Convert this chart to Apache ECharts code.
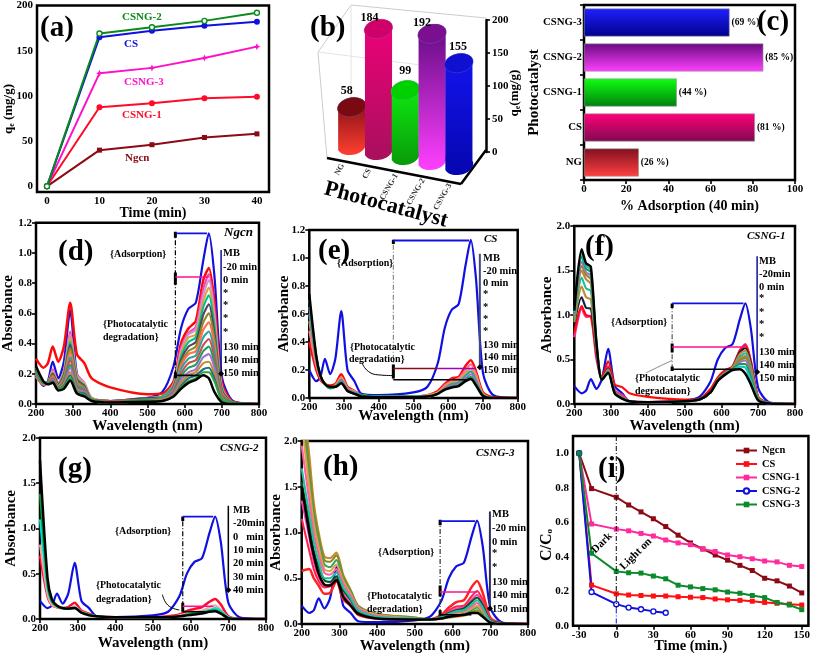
<!DOCTYPE html>
<html><head><meta charset="utf-8">
<style>html,body{margin:0;padding:0;background:#fff}#c{width:813px;height:657px}</style>
<script src="https://cdn.jsdelivr.net/npm/echarts@6/dist/echarts.min.js"></script>
</head><body><div id="c"></div>
<script>
const FONT='"Liberation Serif","Times New Roman",serif';
// ---- panel (a)
const timeA=[0,10,20,30,40];
const qCSNG2=[0,169,176,183,192];
const qCS=[0,165,172,177.5,182];
const qCSNG3=[0,125,131,142,154.5];
const qCSNG1=[0,87.5,92,97.5,99];
const qNgcn=[0,40,46,54,58];
// ---- panels (b),(c)
const catalysts=['NG','CS','CSNG-1','CSNG-2','CSNG-3'];
const qAt40=[58,184,99,192,155];
const adsorption=[26,81,44,85,69];
// ---- panel (i)
const timeI=[-30,-20,0,10,20,30,40,50,60,70,80,90,100,110,120,130,140,150];
const cNgcn=[1,.795,.745,.70,.66,.62,.575,.525,.48,.445,.41,.38,.35,.32,.275,.26,.23,.19];
const cCS=[1,.235,.185,.178,.175,.172,.172,.168,.165,.163,.155,.15,.147,.142,.135,.13,.125,.12];
const cCSNG1=[1,.59,.56,.55,.535,.52,.497,.48,.47,.445,.43,.41,.40,.388,.375,.37,.35,.343];
const cCSNG2=[1,.195,.125,.105,.095,.083,.075];
const cCSNG3=[1,.42,.315,.307,.305,.288,.272,.235,.225,.215,.208,.195,.188,.175,.163,.135,.12,.093];
// ---- spectra
const wl=[200,220,232,245,260,275,292,310,330,350,400,500,540,570,590,610,630,650,665,680,700,730,800];
const MB=[.20,.12,.15,.28,.17,.28,.62,.20,.12,.03,.02,.04,.08,.25,.50,.63,.67,.95,1.13,.85,.18,.02,0];
const specD=[
[.30,.24,.27,.38,.28,.38,.67,.33,.27,.17,.11,.065,.07,.15,.40,.50,.55,.82,.90,.68,.14,.015,0],
[.18,.13,.14,.23,.14,.22,.48,.20,.14,.04,.02,.04,.05,.13,.37,.47,.51,.76,.86,.62,.12,.01,0],
[.18,.13,.14,.22,.14,.21,.46,.19,.14,.04,.02,.04,.05,.13,.35,.46,.49,.72,.82,.59,.11,.01,0],
[.19,.13,.14,.21,.14,.21,.44,.18,.13,.04,.02,.04,.05,.12,.33,.44,.46,.68,.77,.55,.10,.01,0],
[.19,.13,.14,.20,.13,.20,.41,.17,.12,.03,.02,.04,.05,.12,.31,.41,.44,.64,.72,.52,.10,.01,0],
[.19,.13,.14,.20,.13,.19,.39,.16,.12,.03,.02,.04,.04,.11,.29,.38,.41,.59,.66,.47,.09,.01,0],
[.20,.13,.14,.19,.12,.18,.37,.15,.11,.03,.02,.03,.04,.10,.27,.35,.38,.54,.60,.43,.08,.01,0],
[.20,.13,.14,.18,.12,.17,.34,.14,.10,.03,.02,.03,.04,.10,.25,.33,.35,.49,.54,.39,.07,.01,0],
[.20,.14,.14,.17,.11,.16,.31,.13,.10,.03,.02,.03,.04,.09,.23,.30,.32,.44,.48,.35,.06,.01,0],
[.21,.14,.14,.17,.11,.15,.29,.12,.09,.03,.02,.03,.03,.08,.20,.27,.29,.39,.43,.31,.06,.01,0],
[.21,.14,.14,.16,.11,.14,.26,.11,.08,.03,.01,.03,.03,.07,.18,.24,.26,.35,.38,.27,.05,.01,0],
[.22,.14,.14,.16,.10,.13,.24,.10,.08,.02,.01,.02,.03,.07,.16,.21,.23,.31,.33,.24,.04,0,0],
[.22,.14,.14,.15,.10,.13,.21,.09,.07,.02,.01,.02,.03,.06,.14,.19,.21,.27,.28,.20,.04,0,0],
[.23,.14,.14,.15,.10,.12,.19,.08,.07,.02,.01,.02,.02,.05,.12,.17,.19,.23,.24,.17,.03,0,0],
[.24,.14,.14,.14,.10,.11,.17,.08,.06,.02,.01,.02,.02,.05,.11,.15,.17,.21,.21,.15,.03,0,0],
[.25,.15,.13,.14,.09,.10,.155,.07,.05,.02,.01,.015,.02,.05,.10,.14,.16,.19,.17,.08,.012,0,0]];
const specE=[
[.40,.20,.13,.10,.09,.10,.17,.08,.05,.02,.01,.01,.02,.05,.10,.14,.15,.23,.27,.19,.04,.005,0],
[.48,.23,.14,.10,.08,.09,.15,.07,.05,.02,.01,.01,.02,.04,.09,.12,.14,.20,.24,.17,.03,0,0],
[.55,.25,.15,.10,.08,.09,.14,.07,.04,.02,.01,.01,.02,.04,.08,.11,.12,.18,.21,.15,.03,0,0],
[.60,.27,.15,.10,.07,.08,.13,.06,.04,.02,.01,.01,.01,.03,.07,.10,.11,.16,.19,.13,.02,0,0],
[.65,.29,.16,.10,.07,.08,.12,.06,.03,.02,.01,.01,.01,.03,.07,.09,.10,.14,.17,.12,.02,0,0],
[.70,.30,.16,.10,.07,.08,.11,.05,.03,.02,.01,.01,.01,.03,.06,.08,.09,.13,.15,.10,.02,0,0],
[.74,.30,.16,.10,.08,.08,.105,.05,.03,.01,.005,.005,.01,.03,.06,.075,.085,.12,.135,.09,.015,0,0]];
const specF=[
[.75,1.08,.98,.99,.52,.28,.42,.15,.10,.03,.02,.04,.05,.14,.28,.36,.42,.60,.67,.48,.08,.01,0],
[.80,1.10,1.00,.98,.55,.30,.48,.22,.19,.12,.08,.05,.06,.17,.30,.38,.42,.60,.66,.48,.08,.01,0],
[.90,1.20,1.08,1.07,.60,.27,.40,.14,.08,.03,.02,.03,.05,.13,.27,.35,.41,.58,.63,.45,.07,.01,0],
[.92,1.32,1.20,1.17,.62,.27,.39,.14,.08,.03,.02,.03,.05,.13,.27,.35,.41,.56,.60,.43,.07,.01,0],
[.95,1.42,1.30,1.27,.64,.27,.38,.13,.07,.03,.02,.03,.05,.13,.27,.35,.40,.53,.57,.40,.06,.01,0],
[.97,1.50,1.40,1.35,.66,.27,.38,.13,.07,.03,.02,.03,.05,.13,.27,.34,.40,.51,.54,.38,.06,.01,0],
[.99,1.55,1.45,1.40,.67,.27,.37,.13,.07,.03,.02,.03,.05,.13,.27,.34,.39,.49,.52,.36,.06,.01,0],
[1.0,1.60,1.48,1.44,.68,.27,.37,.13,.07,.03,.02,.03,.05,.13,.26,.34,.39,.47,.49,.33,.05,.01,0],
[1.02,1.66,1.52,1.48,.69,.27,.36,.12,.06,.03,.02,.03,.05,.13,.26,.33,.39,.45,.45,.30,.05,.005,0],
[1.03,1.70,1.55,1.51,.70,.27,.36,.12,.06,.03,.02,.03,.05,.13,.26,.33,.38,.42,.41,.26,.04,.005,0],
[1.05,1.74,1.58,1.54,.70,.27,.35,.12,.06,.03,.02,.03,.05,.13,.26,.33,.38,.39,.34,.22,.04,.005,0]];
const specG=[
[.70,.25,.15,.13,.12,.13,.18,.09,.06,.03,.02,.02,.03,.05,.09,.11,.13,.19,.22,.16,.03,0,0],
[.82,.27,.15,.13,.12,.12,.14,.08,.05,.03,.02,.02,.02,.04,.06,.08,.09,.13,.15,.10,.02,0,0],
[1.10,.33,.18,.14,.12,.11,.13,.07,.05,.03,.02,.02,.02,.03,.05,.07,.08,.10,.12,.09,.02,0,0],
[1.38,.38,.19,.14,.12,.11,.12,.07,.05,.03,.02,.02,.02,.03,.05,.06,.07,.09,.10,.07,.01,0,0],
[1.75,.45,.21,.15,.12,.115,.12,.07,.04,.03,.02,.02,.02,.03,.04,.05,.06,.08,.085,.06,.01,0,0]];
const specH=[
[.58,.60,.50,.42,.33,.34,.47,.27,.20,.10,.06,.05,.05,.10,.18,.24,.26,.40,.47,.34,.07,.01,0],
[1.15,.80,.60,.47,.40,.41,.49,.30,.20,.11,.06,.05,.05,.09,.15,.19,.20,.30,.36,.26,.05,.01,0],
[1.35,.95,.68,.52,.42,.43,.50,.33,.22,.12,.07,.05,.05,.08,.13,.17,.18,.26,.32,.23,.05,.01,0],
[1.55,1.10,.80,.62,.48,.46,.52,.37,.26,.14,.08,.05,.05,.08,.12,.15,.17,.24,.29,.21,.04,.01,0],
[2.6,1.85,1.33,1.0,.74,.72,.78,.54,.37,.20,.11,.07,.05,.06,.07,.08,.09,.12,.13,.09,.02,0,0],
[2.5,1.7,1.25,.95,.70,.68,.75,.52,.36,.19,.11,.07,.05,.06,.08,.09,.10,.13,.15,.10,.02,0,0],
[2.35,1.6,1.18,.90,.65,.62,.70,.49,.35,.19,.10,.06,.05,.06,.08,.10,.11,.15,.18,.12,.02,0,0],
[2.2,1.5,1.10,.84,.60,.58,.65,.47,.33,.18,.10,.06,.05,.06,.09,.12,.13,.17,.20,.14,.03,0,0],
[1.95,1.35,1.0,.76,.56,.54,.60,.44,.31,.17,.09,.06,.05,.07,.10,.13,.14,.19,.23,.16,.03,0,0],
[1.70,1.20,.90,.68,.50,.50,.56,.40,.28,.15,.08,.06,.05,.07,.11,.14,.15,.21,.26,.18,.03,0,0],
[1.50,1.00,.75,.55,.43,.42,.48,.30,.20,.11,.06,.05,.05,.06,.08,.09,.10,.12,.12,.08,.015,0,0]];
const specDColors=['#ff0a0a','#ff40a8','#c49ad8','#e0a040','#00c090','#5a4060','#8a8a20','#ff7050','#30a0a0','#c85050','#20a060','#a870c8','#c88830','#207080','#30a040','#000000'];
const specEColors=['#ff0a0a','#ff70a0','#e0a040','#30a0a0','#a070c0','#00a040','#000000'];
const specFColors=['#ff2a90','#ff0a0a','#102040','#c88830','#10c0a0','#c08040','#8a8a20','#a870c8','#10a050','#20c0c0','#000000'];
const specGColors=['#ff0a2a','#ffa0a0','#00e0e0','#00a030','#000000'];
const specHColors=['#ff2020','#ff2050','#ff40a8','#0a5020','#c88830','#8a8a20','#40a060','#e0a040','#ff60a0','#20c0a0','#000000'];
const colorsB=[['#7a0a14','#ff4030','#7a0a12'],['#f0007a','#a8105c','#d0006a'],['#10f010','#089a0a','#00d000'],['#600a80','#ff40ff','#7a1090'],['#1414f0','#0606b0','#1010d0']];
const colorsC=[['#801020','#ff4040'],['#ff0078','#800a50'],['#10ff10','#008010'],['#6a0a80','#ff40ff'],['#2020ff','#00008c']];
const labelRiseB=[16,11,19,11,16];
const labelShiftB=[-5,-9,0,-10,-1];

const grids=[
 {left:37,top:5,width:232,height:187},
 {left:338.3,top:20,width:134,height:132,show:false},
 {left:584,top:5,width:211,height:175},
 {left:34,top:222.7,width:225,height:181.3},
 {left:309.3,top:230,width:208.4,height:168},
 {left:574.3,top:226,width:220.7,height:178},
 {left:40,top:437.7,width:226,height:181.3},
 {left:301.7,top:441,width:226.3,height:183},
 {left:573,top:436,width:237,height:189.7}
].map(g=>Object.assign({show:true,z:1,backgroundColor:'#fff',borderColor:'#000',borderWidth:2.5},g));

const lab=(extra)=>Object.assign({color:'#000',fontFamily:FONT,fontWeight:'bold',fontSize:11,margin:4},extra||{});
const tick={show:true,length:4,lineStyle:{color:'#000',width:1.6}};
const nameSt=(s)=>({fontFamily:FONT,fontWeight:'bold',fontSize:s,color:'#000'});
function xA(i,o){return Object.assign({type:'value',gridIndex:i,splitLine:{show:false},axisLine:{show:false},axisTick:tick,axisLabel:lab(),nameLocation:'middle',nameMoveOverlap:false},o);}
function yA(i,o){return Object.assign({type:'value',gridIndex:i,splitLine:{show:false},axisLine:{show:false},axisTick:tick,axisLabel:lab(),nameLocation:'middle',nameMoveOverlap:false},o);}
const f1=v=>v.toFixed(1);
const specX=(i,gap)=>xA(i,{min:200,max:800,interval:100,name:'Wavelength (nm)',nameGap:gap,nameTextStyle:nameSt(15)});
const specY=(i,max,int,gap)=>yA(i,{min:0,max,interval:int,name:'Absorbance',nameGap:gap,nameTextStyle:nameSt(15),axisLabel:lab({formatter:f1})});

const xAxes=[
 xA(0,{min:-1.9,max:42.3,axisTick:Object.assign({},tick,{customValues:timeA}),axisLabel:lab({customValues:timeA}),name:'Time (min)',nameGap:14,nameTextStyle:nameSt(14)}),
 {type:'category',gridIndex:1,data:catalysts,show:false},
 xA(2,{min:0,max:100,interval:20,name:'% Adsorption (40 min)',nameGap:19,nameTextStyle:nameSt(14)}),
 specX(3,15),specX(4,11),specX(5,15),specX(6,17),specX(7,15),
 xA(8,{min:-35,max:155.4,axisTick:Object.assign({},tick,{customValues:[-30,0,30,60,90,120,150]}),axisLabel:lab({customValues:[-30,0,30,60,90,120,150]}),name:'Time (min.)',nameGap:13,nameTextStyle:nameSt(14.5)})
];
const yAxes=[
 yA(0,{min:-6.3,max:200,axisTick:Object.assign({},tick,{customValues:[0,50,100,150,200]}),axisLabel:lab({customValues:[0,50,100,150,200]})}),
 yA(1,{min:0,max:200,interval:50,position:'right',offset:13.7,axisLine:{show:true,lineStyle:{color:'#000',width:2.5}},axisLabel:lab({margin:6})}),
 {type:'category',gridIndex:2,data:catalysts,axisLine:{show:false},axisTick:tick,axisLabel:lab({fontSize:10.8,margin:2}),name:'Photocatalyst',nameLocation:'middle',nameGap:42,nameMoveOverlap:false,nameTextStyle:nameSt(15)},
 specY(3,1.2,.2,20),specY(4,1.2,.2,18),specY(5,2,.5,20),specY(6,2,.5,21),specY(7,2,.5,18),
 yA(8,{min:0,max:1.1,axisTick:Object.assign({},tick,{customValues:[0,.2,.4,.6,.8,1]}),axisLabel:lab({customValues:[0,.2,.4,.6,.8,1],formatter:f1})})
];

const series=[];
function timeLine(name,g,xs,ys,color,symbol,size,hollow){
 series.push({name,type:'line',xAxisIndex:g,yAxisIndex:g,data:xs.map((x,i)=>[x,ys[i]]).filter(p=>p[1]!==undefined),
  symbol,symbolSize:size,showSymbol:true,lineStyle:{color,width:2},itemStyle:{color:hollow?'#fff':color,borderColor:color,borderWidth:hollow?1.4:0},z:3});
}
timeLine('q Ngcn',0,timeA,qNgcn,'#8b0a14','rect',5);
timeLine('q CSNG-1',0,timeA,qCSNG1,'#ff0a28','circle',6);
timeLine('q CSNG-3',0,timeA,qCSNG3,'#ff10c8','path://M5 0 L6.5 3.5 L10 5 L6.5 6.5 L5 10 L3.5 6.5 L0 5 L3.5 3.5 Z',7);
timeLine('q CS',0,timeA,qCS,'#1010e0','circle',6);
timeLine('q CSNG-2',0,timeA,qCSNG2,'#0a8a1a','circle',5,true);

timeLine('Ngcn',8,timeI,cNgcn,'#8b0a14','rect',5);
timeLine('CS',8,timeI,cCS,'#ff1010','rect',5);
timeLine('CSNG-1',8,timeI,cCSNG1,'#ff2a9c','rect',5);
timeLine('CSNG-2',8,timeI,cCSNG2,'#1010e0','circle',5,true);
timeLine('CSNG-3',8,timeI,cCSNG3,'#0a8a2a','rect',5);

// (b) pseudo-3D cylinders, placed by the library's own scales
const ell=(cx,cy,from,to)=>{const rx=14.5,ry=9.5,t=-0.2,pts=[];for(let k=0;k<=24;k++){const a=from+(to-from)*k/24,ex=rx*Math.cos(a),ey=ry*Math.sin(a);pts.push([cx+ex*Math.cos(t)-ey*Math.sin(t),cy+ex*Math.sin(t)+ey*Math.cos(t)]);}return pts;};
series.push({type:'custom',xAxisIndex:1,yAxisIndex:1,clip:false,encode:{x:0,y:1},z:3,data:qAt40.map((v,i)=>[i,v]),
 renderItem(params,api){
  const i=api.value(0),v=api.value(1),top=api.coord([i,v]),bot=api.coord([i,0]);
  const skew=(bot[0]-376.7)*0.187-2, cx=bot[0], by=bot[1]+skew, ty=top[1]+skew, c=colorsB[i];
  const body=ell(cx,by,-0.2,Math.PI-0.2).concat(ell(cx,ty,Math.PI-0.2,2*Math.PI-0.2));
  return {type:'group',children:[
   {type:'polygon',shape:{points:body},style:{fill:new echarts.graphic.LinearGradient(0,0,0,1,[{offset:0,color:c[0]},{offset:1,color:c[1]}])}},
   {type:'polygon',shape:{points:ell(cx,ty,0,2*Math.PI)},style:{fill:c[2],stroke:'rgba(120,140,200,.5)',lineWidth:.5}},
   {type:'text',x:cx+labelShiftB[i],y:ty-labelRiseB[i],style:{text:String(v),fill:'#000',font:'bold 12px '+FONT,align:'center',verticalAlign:'middle',textAlign:'center',textVerticalAlign:'middle'}},
   {type:'text',x:cx-9,y:by+19,rotation:Math.PI/3,style:{text:catalysts[i],fill:'#333',font:'bold 8px '+FONT,align:'right',verticalAlign:'middle',textAlign:'right',textVerticalAlign:'middle'}}
  ]};
 }});
// (c)
series.push({type:'bar',xAxisIndex:2,yAxisIndex:2,barWidth:'80%',z:3,
 data:adsorption.map((v,i)=>({value:v,itemStyle:{borderColor:'#999',borderWidth:.6,color:new echarts.graphic.LinearGradient(0,0,0,1,[{offset:0,color:colorsC[i][0]},{offset:1,color:colorsC[i][1]}])}})),
 label:{show:true,position:'right',distance:2,formatter:p=>'('+p.value+' %)',fontFamily:FONT,fontWeight:'bold',fontSize:9.5,color:'#000'}});

function spectra(g,tag,rows,colors){
 series.push({name:tag+' MB',type:'line',xAxisIndex:g,yAxisIndex:g,data:wl.map((w,i)=>[w,MB[i]]),smooth:.25,symbol:'none',lineStyle:{color:'#1010e0',width:2.2},z:3});
 rows.forEach((r,k)=>series.push({name:tag+' '+k,type:'line',xAxisIndex:g,yAxisIndex:g,data:wl.map((w,i)=>[w,r[i]]),smooth:.25,symbol:'none',
  lineStyle:{color:colors[k],width:(k===rows.length-1||k===0)?2.5:2.1},z:3}));
}
spectra(3,'d',specD,specDColors);
spectra(4,'e',specE,specEColors);
spectra(5,'f',specF,specFColors);
spectra(6,'g',specG,specGColors);
spectra(7,'h',specH,specHColors);

// guide lines of the annotations, in each panel's data units
const DD=[5,2,1,2];
function guide(g,pts,color,width,type,smooth,arrow){
 const data=pts.map((p,i)=>(arrow&&i===pts.length-1)?{value:p,symbol:'diamond',symbolSize:6,itemStyle:{color:'#000'}}:{value:p,symbol:'none'});
 series.push({type:'line',xAxisIndex:g,yAxisIndex:g,data,smooth:!!smooth,showSymbol:true,symbol:'none',lineStyle:{color,width,type:type||'solid'},z:4,silent:true});
}
guide(3,[[575,.19],[575,1.13]],'#000',1.2,DD);guide(3,[[575,1.10],[575,1.14]],'#000',3);guide(3,[[575,.79],[575,.87]],'#000',3);guide(3,[[575,.17],[575,.21]],'#000',3);
guide(3,[[575,1.13],[660,1.13]],'#1010e0',1.8);guide(3,[[575,.84],[665,.84]],'#ff1090',1.5);guide(3,[[575,.19],[640,.19]],'#000',1.8);guide(3,[[698,1.02],[698,.2]],'#1010a0',1.5,null,false,true);
guide(4,[[442,.13],[442,1.125]],'#888',1.2,DD);guide(4,[[442,.14],[442,.24]],'#000',3);guide(4,[[442,1.1],[442,1.13]],'#000',3);
guide(4,[[442,1.125],[660,1.125]],'#1010e0',1.8);guide(4,[[442,.21],[570,.21]],'#8b0a14',1.5);guide(4,[[570,.21],[680,.21]],'#a000c0',1.5);guide(4,[[442,.13],[660,.13]],'#000',1.5);guide(4,[[691,1.03],[691,.22]],'#404880',2,null,false,true);
guide(4,[[352,.248],[370,.19],[400,.165],[442,.16]],'#000',1,null,true);
guide(5,[[466,.39],[466,1.12]],'#555',1.2,DD);guide(5,[[466,1.08],[466,1.13]],'#000',3);guide(5,[[466,.58],[466,.68]],'#000',3);guide(5,[[466,.37],[466,.42]],'#000',3);
guide(5,[[466,1.13],[660,1.13]],'#1010e0',1.8);guide(5,[[466,.64],[665,.64]],'#ff1090',1.5);guide(5,[[466,.39],[640,.39]],'#000',1.5);guide(5,[[697,1.66],[697,.36]],'#1010a0',1.5,null,false,true);
guide(5,[[395,.35],[430,.42],[466,.49]],'#888',1,null,true);
guide(6,[[579,.14],[579,1.12]],'#000',1.2,DD);guide(6,[[579,1.08],[579,1.13]],'#000',3);guide(6,[[579,.08],[579,.18]],'#000',3);
guide(6,[[579,1.13],[660,1.13]],'#1010e0',1.8);guide(6,[[579,.14],[660,.14]],'#ff1090',1.5);guide(6,[[579,.08],[640,.08]],'#000',1.5);guide(6,[[700,1.25],[700,.32]],'#000',1.5,null,false,true);
guide(6,[[525,.27],[540,.15],[570,.1]],'#000',1,null,true);
guide(7,[[567,.11],[567,1.12]],'#333',1.2,DD);guide(7,[[567,1.08],[567,1.14]],'#000',3);guide(7,[[567,.3],[567,.42]],'#000',3);guide(7,[[567,.09],[567,.15]],'#000',3);
guide(7,[[567,1.125],[660,1.125]],'#1010e0',1.8);guide(7,[[567,.35],[665,.35]],'#ff1090',1.5);guide(7,[[567,.10],[650,.10]],'#000',1.5);guide(7,[[699,1.23],[699,.17]],'#303060',2,null,false,true);
guide(8,[[0,1.1],[0,.1]],'#000',1,DD);guide(8,[[0,.1],[0,0]],'#1010e0',1,DD);

// real text annotations
const el=[];
function t(text,x,y,size,o){o=o||{};el.push({type:'text',x,y,z:30,rotation:o.rot||0,silent:true,style:Object.assign({text,fill:o.color||'#000',
 font:(o.italic?'italic ':'')+'bold '+size+'px '+FONT,align:o.align||'left',verticalAlign:'middle',textAlign:o.align||'left',textVerticalAlign:'middle'},o.style||{})});}
const big=29;
t('(a)',40,29,big);t('(b)',310,29,big);t('(c)',773,23,big,{align:'center'});t('(d)',58,253,big);t('(e)',318,252,big);t('(f)',585,248,big);t('(g)',58,470,big);t('(h)',323,468,big);t('(i)',598,470,big);
t('CSNG-2',122,17,11,{color:'#0a8a1a'});t('CS',124,44,11,{color:'#1010e0'});t('CSNG-3',124,82,11,{color:'#ff10c8'});t('CSNG-1',122,115,11,{color:'#ff0a28'});t('Ngcn',125,158,11,{color:'#8b0a14'});
function labels(x,ys,txts){txts.forEach((s,i)=>t(s,x,ys[i],10.5));}
labels(223,[253,267,280,293,305,318,332,347,360,373],['MB','-20 min','0 min','*','*','*','*','130 min','140 min','150 min']);
labels(483,[258,271,283,294,307,319,331,345,357,370],['MB','-20 min','0 min','*','*','*','*','130 min','140 min','150 min']);
labels(759,[261,274,287,298,312,324,337,352,365,378],['MB','-20min','0 min','*','*','*','*','130 min','140 min','150 min']);
labels(233,[510,523,537,550,563,577,590],['MB','-20min','0   min','10 min','20 min','30 min','40 min']);
labels(492,[514,528,542,553,567,582,595,609],['MB','-20 min','0 min','*','*','130 min','140 min','150 min']);
t('Ngcn',224,233,13,{italic:true});t('CS',484,239,11,{italic:true});t('CSNG-1',747,236,11,{italic:true});t('CSNG-2',220,448,11,{italic:true});t('CSNG-3',476,453,11,{italic:true});
t('{Adsorption}',110,254,10);t('{Photocatalytic',103,324,10);t('degradation}',103,337,10);
t('{Adsorption}',337,263,10);t('{Photocatalytic',350,347,10);t('degradation}',349,359,10);
t('{Adsorption}',611,322,10);t('{Photocatalytic',635,378,10);t('degradation}',635,391,10);
t('{Adsorption}',115,531,10);t('{Photocatalytic',96,585,10);t('degradation}',96,599,10);
t('{Adsorption}',378,552,10);t('{Photocatalytic',367,596,10);t('degradation}',367,609,10);
t('Dark',602,543,11,{rot:Math.PI/4,align:'center'});t('Light on',636,554,11,{rot:Math.PI/4,align:'center'});
const sub={b:{font:'bold 13px '+FONT,fill:'#000'},s:{font:'bold 8px '+FONT,fill:'#000',padding:[5,0,0,0]}};
t('',9,109,13,{rot:Math.PI/2,align:'center',style:{text:'{b|q}{s|e}{b| (mg/g)}',rich:sub}});
t('',515,93,13,{rot:Math.PI/2,align:'center',style:{text:'{b|q}{s|e}{b|(mg/g)}',rich:sub}});
t('',547,545,15,{rot:Math.PI/2,align:'center',style:{text:'{b|C/C}{s|o}',rich:{b:{font:'bold 16px '+FONT,fill:'#000'},s:{font:'bold 9px '+FONT,fill:'#000',padding:[6,0,0,0]}}}});
// (b) frame and rotated axis title; sit under the panel backgrounds
function wall(x1,y1,x2,y2,color,w){el.push({type:'line',z:0,silent:true,shape:{x1,y1,x2,y2},style:{stroke:color,lineWidth:w}});}
wall(351,5,486,18,'#ccc',1);wall(351,5,318,52,'#ccc',1);wall(318,52,327,158,'#ccc',1);wall(318,52,461,70,'#e4e4e4',1);wall(351,5,351,140,'#e4e4e4',1);
wall(327,158,461,184,'#000',2.5);wall(461,184,486,150,'#000',2.5);
el.push({type:'text',x:386,y:205,z:0,rotation:-15*Math.PI/180,silent:true,style:{text:'Photocatalyst',fill:'#000',font:'bold 22px '+FONT,align:'center',verticalAlign:'middle',textAlign:'center',textVerticalAlign:'middle'}});

const chart=echarts.init(document.getElementById('c'),null,{renderer:'canvas'});
chart.setOption({animation:false,backgroundColor:'#fff',textStyle:{fontFamily:FONT},
 grid:grids,xAxis:xAxes,yAxis:yAxes,series,graphic:{elements:el},
 legend:{data:['Ngcn','CS','CSNG-1','CSNG-2','CSNG-3'],orient:'vertical',left:735,top:445,itemWidth:21,itemHeight:7,itemGap:2.5,padding:0,
  textStyle:{fontFamily:FONT,fontWeight:'bold',fontSize:10.5,color:'#000'}}});
</script></body></html>
